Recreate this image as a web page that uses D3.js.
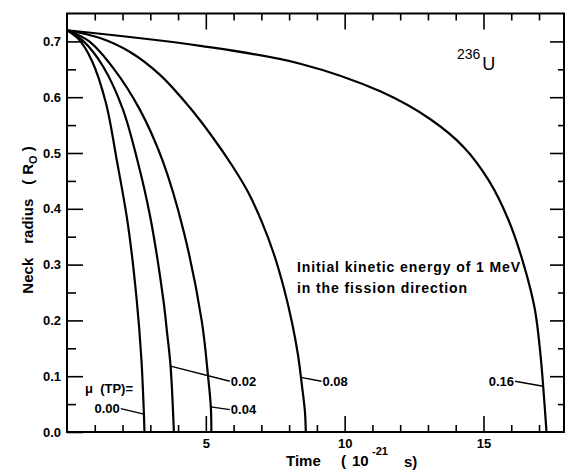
<!DOCTYPE html>
<html><head><meta charset="utf-8">
<script src="https://cdn.jsdelivr.net/npm/d3@7"></script>
<style>body{margin:0;background:#fff}svg text{font-family:"Liberation Sans",Arial,sans-serif;fill:#000}</style>
</head><body>
<svg id="c" width="566" height="470"></svg>
<script>
// ---- data (time in 1e-21 s, neck radius in R0) ----
const seriesLabels = ["0.00", "0.02", "0.04", "0.08", "0.16"];
const time000 = [0, 0.4, 0.9, 1.4, 1.79, 2.2, 2.51, 2.68, 2.77, 2.79];
const radius000 = [0.72, 0.705, 0.665, 0.59, 0.488, 0.37, 0.237, 0.13, 0.032, 0];
const time002 = [0, 0.6, 1.3, 2.0, 2.53, 3.0, 3.47, 3.6, 3.73, 3.85];
const radius002 = [0.72, 0.70, 0.655, 0.58, 0.488, 0.385, 0.237, 0.18, 0.118, 0];
const time004 = [0, 0.8, 1.7, 2.6, 3.43, 4.2, 4.85, 5.08, 5.18, 5.2];
const radius004 = [0.72, 0.70, 0.65, 0.58, 0.488, 0.36, 0.2, 0.1, 0.045, 0];
const time008 = [0, 1.19, 2.27, 3.35, 4.43, 5.22, 5.94, 6.52, 7.02, 7.45, 7.81, 8.10, 8.32, 8.46, 8.57, 8.6];
const radius008 = [0.72, 0.706, 0.681, 0.640, 0.581, 0.530, 0.478, 0.43, 0.376, 0.319, 0.258, 0.197, 0.138, 0.084, 0.036, 0];
const time016 = [0, 4.8, 8.4, 11.3, 13.1, 14.3, 15.2, 15.9, 16.45, 16.85, 17.05, 17.15, 17.27];
const radius016 = [0.72, 0.692, 0.66, 0.61, 0.56, 0.51, 0.45, 0.38, 0.30, 0.22, 0.14, 0.082, 0];
// label text position and leader anchor on the curve (data units)
const labelTime = [1.9, 5.9, 5.9, 9.2, 16.1];
const labelRadius = [0.042, 0.091, 0.04, 0.091, 0.091];
const anchorTime = [2.77, 3.73, 5.18, 8.42, 17.15];
const anchorRadius = [0.032, 0.118, 0.045, 0.098, 0.082];
const xMajorTicks = [5, 10, 15];
const xMinorTicks = [1, 2, 3, 4, 6, 7, 8, 9, 11, 12, 13, 14, 16, 17];
const yMajorTicks = [0.0, 0.1, 0.2, 0.3, 0.4, 0.5, 0.6, 0.7];
const yMinorTicks = [0.05, 0.15, 0.25, 0.35, 0.45, 0.55, 0.65];

const series = [
  {t: time000, r: radius000}, {t: time002, r: radius002}, {t: time004, r: radius004},
  {t: time008, r: radius008}, {t: time016, r: radius016}
];

const svg = d3.select("#c");
const L = 67, R = 564, T = 13.5, B = 432;
const x = d3.scaleLinear().domain([0, 17.9]).range([L, R]);
const y = d3.scaleLinear().domain([0, 0.75]).range([B, T]);

function styleAxis(g) {
  g.select(".domain").remove();
  g.selectAll(".tick line").attr("stroke", "#000").attr("stroke-width", 1.6);
  g.selectAll(".tick text").attr("font-size", 13).attr("font-weight", "bold").attr("fill", "#000");
}
// bottom
svg.append("g").attr("transform", `translate(0,${B})`)
  .call(d3.axisBottom(x).tickValues(xMajorTicks).tickSize(-16).tickPadding(7).tickFormat(d3.format("d"))).call(styleAxis);
svg.append("g").attr("transform", `translate(0,${B})`)
  .call(d3.axisBottom(x).tickValues(xMinorTicks).tickSize(-7).tickFormat("")).call(styleAxis);
// top
svg.append("g").attr("transform", `translate(0,${T})`)
  .call(d3.axisTop(x).tickValues(xMajorTicks).tickSize(-16).tickFormat("")).call(styleAxis);
svg.append("g").attr("transform", `translate(0,${T})`)
  .call(d3.axisTop(x).tickValues(xMinorTicks).tickSize(-7).tickFormat("")).call(styleAxis);
// left
svg.append("g").attr("transform", `translate(${L},0)`)
  .call(d3.axisLeft(y).tickValues(yMajorTicks).tickSize(-16).tickPadding(6).tickFormat(d3.format(".1f"))).call(styleAxis);
svg.append("g").attr("transform", `translate(${L},0)`)
  .call(d3.axisLeft(y).tickValues(yMinorTicks).tickSize(-9).tickFormat("")).call(styleAxis);
// right
svg.append("g").attr("transform", `translate(${R},0)`)
  .call(d3.axisRight(y).tickValues(yMajorTicks.slice(1)).tickSize(-14).tickFormat("")).call(styleAxis);
svg.append("g").attr("transform", `translate(${R},0)`)
  .call(d3.axisRight(y).tickValues(yMinorTicks).tickSize(-6).tickFormat("")).call(styleAxis);

// frame
svg.append("rect").attr("x", L).attr("y", T).attr("width", R - L).attr("height", B - T)
  .attr("fill", "none").attr("stroke", "#000").attr("stroke-width", 2);

// curves
const line = d3.line().x(d => x(d[0])).y(d => y(d[1])).curve(d3.curveCatmullRom.alpha(0.5));
svg.append("g").selectAll("path").data(series).join("path")
  .attr("d", s => line(s.t.map((t, i) => [t, s.r[i]])))
  .attr("fill", "none").attr("stroke", "#000").attr("stroke-width", 2.2);

// leaders + labels
const lab = svg.append("g");
seriesLabels.forEach((txt, i) => {
  const lx = x(labelTime[i]), ly = y(labelRadius[i]);
  const leftSide = labelTime[i] < anchorTime[i];
  lab.append("text").attr("x", lx).attr("y", ly).attr("dy", "0.35em")
    .attr("text-anchor", leftSide ? "end" : "start")
    .attr("font-size", 13).attr("font-weight", "bold").text(txt);
  lab.append("line")
    .attr("x1", leftSide ? lx + 1 : lx - 1).attr("y1", ly)
    .attr("x2", x(anchorTime[i])).attr("y2", y(anchorRadius[i]))
    .attr("stroke", "#000").attr("stroke-width", 1.4);
});
// mu (TP)=
svg.append("text").attr("x", 85).attr("y", 393).attr("font-size", 13).attr("font-weight", "bold")
  .style("white-space", "pre").text("\u03bc  (TP)=");

// 236U
const iso = svg.append("text").attr("x", 457).attr("y", 70);
iso.append("tspan").attr("font-size", 14).attr("dy", -11).text("236");
iso.append("tspan").attr("font-size", 18).attr("dy", 11).attr("dx", 2).text("U");

// annotation
svg.append("text").attr("x", 297).attr("y", 272).attr("font-size", 14).attr("font-weight", "bold")
  .attr("letter-spacing", 0.9).text("Initial kinetic energy of 1 MeV");
svg.append("text").attr("x", 297).attr("y", 293).attr("font-size", 14).attr("font-weight", "bold")
  .attr("letter-spacing", 0.9).text("in the fission direction");

// x title
const xt = svg.append("g").attr("font-size", 15).attr("font-weight", "bold");
xt.append("text").attr("x", 286).attr("y", 466).text("Time");
xt.append("text").attr("x", 341).attr("y", 466).text("(");
xt.append("text").attr("x", 352).attr("y", 466).text("10");
xt.append("text").attr("x", 372).attr("y", 455).attr("font-size", 11).text("-21");
xt.append("text").attr("x", 404).attr("y", 467).text("s)");

// y title
const yt = svg.append("text").attr("transform", "translate(33,220) rotate(-90)")
  .attr("text-anchor", "middle").attr("font-size", 15).attr("font-weight", "bold");
yt.append("tspan").text("Neck");
yt.append("tspan").attr("dx", 14).text("radius");
yt.append("tspan").attr("dx", 14).text("(");
yt.append("tspan").attr("dx", 5).text("R");
yt.append("tspan").attr("font-size", 11).attr("dy", 4).text("O");
yt.append("tspan").attr("dx", 4).attr("dy", -4).text(")");
</script>
</body></html>
